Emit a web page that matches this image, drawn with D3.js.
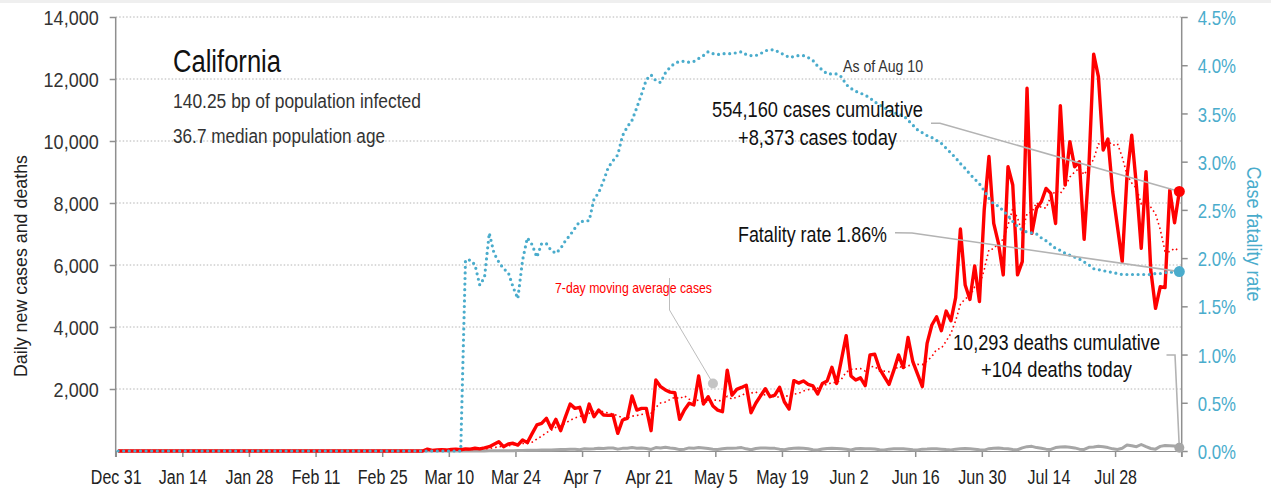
<!DOCTYPE html>
<html><head><meta charset="utf-8">
<script src="https://cdn.jsdelivr.net/npm/d3@7"></script>
<style>
html,body{margin:0;padding:0;background:#fff;}
svg{display:block;font-family:"Liberation Sans",Arial,sans-serif;}
</style></head><body>
<svg id="chart" width="1271" height="491"></svg>
<script>
// ---------- data (one value per day, starting Dec 31, 2019) ----------
const startDate = "2019-12-31";
const cases = [
0,0,0,0,0,0,0,0,0,0, 0,0,0,0,0,0,0,0,0,0, 0,0,0,0,0,0,0,0,0,0,
0,0,0,0,0,0,0,0,0,0, 0,0,0,0,0,0,0,0,0,0, 0,0,0,0,0,0,0,0,0,0, 0,0,0,0,0,
60,20,30,40,30,50,60,40,70,60,
90,70,100,140,220,300,140,225,250,190,
355,270,560,840,890,1055,730,1020,655,1100,
1515,1375,1410,945,1515,1107,1320,1160,1150,1160,
570,1000,1050,1775,1320,1375,1375,655,2290,2075,
1970,1900,1880,1020,1320,1540,1485,2420,1515,1750,
1450,1320,1270,2610,1800,1990,2050,2120,1235,1540,
1780,2010,1750,1800,2055,1590,1355,2270,2190,2260,
2150,2100,1840,2180,2260,2700,2180,2950,3720,2420,
2290,2360,2110,3100,3120,2660,2400,2150,2600,3100,
2690,3660,2880,2480,2075,3470,4065,4330,3880,4515,
4200,4950,7160,5355,4890,5970,4820,7775,9500,7340,
6700,5680,9170,8580,5680,6110,11700,7020,7830,8040,
8470,8310,7340,11140,8580,9980,9170,9330,6830,9170,
12800,12075,9710,10065,8360,7235,6110,8850,10190,8530,
6540,9010,5840,4600,5300,5270,8420,7360,8373
];
const movingAvgCases = [
0,0,0,0,0,0,0,0,0,0, 0,0,0,0,0,0,0,0,0,0, 0,0,0,0,0,0,0,0,0,0,
0,0,0,0,0,0,0,0,0,0, 0,0,0,0,0,0,0,0,0,0, 0,0,0,0,0,0,0,0,0,0, 0,0,0,0,0,
9,11,16,21,26,33,41,39,46,50,
57,63,70,81,107,140,151,171,196,209,
240,247,284,384,479,594,671,766,821,899,
995,1064,1115,1146,1216,1281,1312,1262,1230,1194,
1140,1067,1059,1124,1146,1179,1209,1221,1406,1552,
1580,1663,1735,1684,1779,1672,1588,1652,1597,1579,
1640,1640,1601,1762,1674,1741,1784,1880,1868,1906,
1788,1818,1784,1748,1739,1789,1763,1833,1859,1931,
1981,1988,2024,2141,2140,2213,2201,2316,2547,2630,
2646,2660,2576,2707,2731,2580,2577,2557,2591,2733,
2674,2751,2783,2794,2784,2908,3046,3280,3311,3545,
3791,4201,4729,4913,4993,5291,5335,5846,6496,6521,
6714,6826,7284,7821,7521,7037,7660,7706,8013,7851,
7836,8211,8387,8307,8530,8837,8999,9121,8910,9171,
9409,9908,9869,9997,9859,9916,9479,8915,8646,8477,
7974,8066,7867,7651,7144,6441,6426,6543,6452
];
const deaths = [
0,0,0,0,0,0,0,0,0,0, 0,0,0,0,0,0,0,0,0,0, 0,0,0,0,0,0,0,0,0,0,
0,0,0,0,0,0,0,0,0,0, 0,0,0,0,0,0,0,0,0,0, 0,0,0,0,0,0,0,0,0,0,
0,0,0,0,0,0,0,0,0,0, 0,0,0,0,0,
2,3,4,5,6,8,9,10,12,15,
18,22,25,28,30,35,30,40,45,50,
55,60,40,70,65,70,90,80,100,95,
60,85,90,110,90,100,80,50,110,100,
120,95,80,45,60,100,90,110,100,80,
60,50,75,90,85,95,110,70,40,80,
100,95,90,85,60,40,75,85,95,90,
75,40,30,65,80,85,80,70,55,35,
70,80,75,70,65,40,30,60,70,75,
70,60,40,30,60,65,75,70,60,45,
35,60,70,80,75,60,40,30,75,90,
100,80,70,50,40,100,140,150,110,90,
60,50,110,130,140,120,100,60,50,120,
130,150,140,110,70,50,90,190,170,140,
210,140,80,60,150,180,170,160,104
];
const fatalityRatePct = [
0,0,0,0,0,0,0,0,0,0, 0,0,0,0,0,0,0,0,0,0, 0,0,0,0,0,0,0,0,0,0,
0,0,0,0,0,0,0,0,0,0, 0,0,0,0,0,0,0,0,0,0, 0,0,0,0,0,0,0,0,0,0,
0,0,0,0,0,0,0,0,0,0, 0,0,0,
1.98,1.98,1.93,1.72,1.80,2.26,2.05,1.96,1.89,1.85,
1.70,1.58,1.98,2.21,2.14,2.01,2.15,2.15,2.08,2.05,
2.10,2.18,2.24,2.31,2.38,2.38,2.39,2.61,2.68,2.80,
2.94,3.01,3.07,3.27,3.36,3.43,3.56,3.70,3.85,3.90,
3.84,3.82,3.92,3.98,4.02,4.04,4.04,4.03,4.04,4.07,
4.10,4.14,4.12,4.11,4.12,4.12,4.12,4.13,4.14,4.11,
4.10,4.10,4.12,4.15,4.16,4.16,4.13,4.11,4.08,4.09,
4.10,4.10,4.08,4.05,3.99,3.95,3.91,3.91,3.91,3.88,
3.80,3.76,3.73,3.71,3.69,3.66,3.62,3.59,3.56,3.53,
3.51,3.49,3.48,3.43,3.38,3.33,3.30,3.27,3.25,3.22,
3.19,3.14,3.09,3.04,2.98,2.93,2.87,2.82,2.77,2.70,
2.62,2.56,2.54,2.49,2.44,2.38,2.33,2.29,2.27,2.26,
2.25,2.21,2.18,2.14,2.10,2.08,2.05,2.03,2.01,1.99,
1.96,1.93,1.89,1.88,1.87,1.86,1.85,1.84,1.83,1.83,
1.83,1.83,1.83,1.83,1.83,1.84,1.84,1.85,1.85,1.86,
1.86
];
const leftTicks = [2000,4000,6000,8000,10000,12000,14000];
const rightTicks = [0,0.5,1,1.5,2,2.5,3,3.5,4,4.5];
const xTickLabels = ["Dec 31","Jan 14","Jan 28","Feb 11","Feb 25","Mar 10","Mar 24","Apr 7",
  "Apr 21","May 5","May 19","Jun 2","Jun 16","Jun 30","Jul 14","Jul 28"];
const maAnnotation = {day: 125, value: 2180};

[cases, movingAvgCases, deaths, fatalityRatePct].forEach((a, k) => {
  if (a.length !== 224) throw new Error("series " + k + " length " + a.length);
});

// ---------- scales ----------
const svg = d3.select("#chart");
const t0 = d3.utcParse("%Y-%m-%d")(startDate);
const dayDate = i => d3.utcHour.offset(d3.utcDay.offset(t0, i), 12);
const x = d3.scaleUtc().domain([t0, d3.utcDay.offset(t0, 224)]).range([115.7, 1181.7]);
const y = d3.scaleLinear().domain([0, 14000]).range([451, 17]);
const yR = d3.scaleLinear().domain([0, 4.5]).range([451, 17]);
const last = cases.length - 1;

const CYAN = "#4aaccc", RED = "#ff0000", GRAY = "#a6a6a6", AXIS = "#8f8f8f";

function condense(sel, f) {
  sel.each(function () {
    const w = this.getComputedTextLength();
    this.setAttribute("textLength", (w * f).toFixed(1));
    this.setAttribute("lengthAdjust", "spacingAndGlyphs");
  });
}

// top strip
svg.append("rect").attr("x", 0).attr("y", 0).attr("width", 1271).attr("height", 3).attr("fill", "#efefef");

// gridlines
svg.append("g").selectAll("line").data(leftTicks).join("line")
  .attr("x1", x.range()[0]).attr("x2", x.range()[1])
  .attr("y1", d => y(d)).attr("y2", d => y(d))
  .attr("stroke", "#b4b4b4").attr("stroke-width", 1).attr("stroke-dasharray", "1.5 2");

// left axis
const gL = svg.append("g").attr("transform", `translate(${x.range()[0]},0)`)
  .call(d3.axisLeft(y).tickValues(leftTicks).tickSize(6).tickPadding(11).tickFormat(d3.format(",")));
gL.select(".domain").remove();
gL.selectAll(".tick line").attr("stroke", AXIS).attr("stroke-width", 1.5);
gL.selectAll(".tick text").attr("font-size", 20).attr("fill", "#333").attr("dy", "0.37em")
  .call(condense, 0.9);
svg.append("line").attr("x1", x.range()[0]).attr("x2", x.range()[0]).attr("y1", 17).attr("y2", 457)
  .attr("stroke", AXIS).attr("stroke-width", 1.5);

// right axis
const gR = svg.append("g").attr("transform", `translate(${x.range()[1]},0)`)
  .call(d3.axisRight(yR).tickValues(rightTicks).tickSize(6).tickPadding(10).tickFormat(d => d.toFixed(1) + "%"));
gR.select(".domain").remove();
gR.selectAll(".tick line").attr("stroke", AXIS).attr("stroke-width", 1.5);
gR.selectAll(".tick text").attr("font-size", 21).attr("fill", CYAN).attr("dy", "0.36em")
  .call(condense, 0.8);
svg.append("line").attr("x1", x.range()[1]).attr("x2", x.range()[1]).attr("y1", 17).attr("y2", 457)
  .attr("stroke", AXIS).attr("stroke-width", 1.5);

// x axis
const xTickDates = xTickLabels.map((l, i) => d3.utcDay.offset(t0, i * 14));
const gX = svg.append("g").attr("transform", "translate(0,451)")
  .call(d3.axisBottom(x).tickValues(xTickDates).tickSize(6).tickPadding(13)
    .tickFormat((d, i) => xTickLabels[i]));
gX.select(".domain").attr("stroke", AXIS).attr("stroke-width", 1);
gX.selectAll(".tick line").attr("stroke", AXIS).attr("stroke-width", 1.5);
gX.selectAll(".tick text").attr("font-size", 20).attr("fill", "#222").call(condense, 0.8);

// axis titles
svg.append("text").attr("transform", "translate(27,266) rotate(-90)")
  .attr("text-anchor", "middle").attr("font-size", 19).attr("fill", "#222")
  .attr("textLength", 222).attr("lengthAdjust", "spacingAndGlyphs")
  .text("Daily new cases and deaths");
svg.append("text").attr("transform", "translate(1247,234) rotate(90)")
  .attr("text-anchor", "middle").attr("font-size", 21).attr("fill", CYAN)
  .attr("textLength", 135).attr("lengthAdjust", "spacingAndGlyphs")
  .text("Case fatality rate");

// ---------- series ----------
const idx = d3.range(cases.length);
const lineOf = (arr, sc) => d3.line().x(i => x(dayDate(i))).y(i => sc(arr[i]));

svg.append("path").datum(idx).attr("d", lineOf(deaths, y))
  .attr("fill", "none").attr("stroke", GRAY).attr("stroke-width", 3).attr("stroke-linejoin", "round");
svg.append("path").datum(idx).attr("d", lineOf(cases, y))
  .attr("fill", "none").attr("stroke", RED).attr("stroke-width", 3.4).attr("stroke-linejoin", "round");
svg.append("path").datum(idx).attr("d", lineOf(movingAvgCases, y))
  .attr("fill", "none").attr("stroke", RED).attr("stroke-width", 1.6).attr("stroke-dasharray", "1.6 3");
svg.append("path").datum(idx).attr("d", lineOf(fatalityRatePct, yR))
  .attr("fill", "none").attr("stroke", CYAN).attr("stroke-width", 3.2)
  .attr("stroke-dasharray", "0 5.6").attr("stroke-linecap", "round");

// ---------- annotations ----------
function label(txt, xx, yy, size, width, color, anchor) {
  return svg.append("text").attr("x", xx).attr("y", yy).attr("font-size", size)
    .attr("fill", color || "#111").attr("text-anchor", anchor || "start")
    .attr("textLength", width).attr("lengthAdjust", "spacingAndGlyphs").text(txt);
}
label("California", 173, 72, 31, 108, "#111");
label("140.25 bp of population infected", 173, 108, 20, 248, "#333");
label("36.7 median population age", 173, 143, 20, 212, "#333");
label("As of Aug 10", 843, 72, 17, 80, "#333");
label("554,160 cases cumulative", 712, 117, 22, 211, "#111");
label("+8,373 cases today", 738, 145, 22, 159, "#111");
label("Fatality rate 1.86%", 738, 242, 22, 149, "#111");
label("10,293 deaths cumulative", 953, 350, 22, 207, "#111");
label("+104 deaths today", 981, 377, 22, 151, "#111");
label("7-day moving average cases", 555, 293, 15, 157, RED);

const lastX = x(dayDate(last));
const leader = pts => svg.append("polyline").attr("points", pts.map(p => p.join(",")).join(" "))
  .attr("fill", "none").attr("stroke", "#b3b3b3").attr("stroke-width", 1.6);
leader([[931, 123.3], [940, 123.3], [lastX, y(cases[last])]]);
leader([[895, 232.7], [912, 233], [lastX, yR(fatalityRatePct[last])]]);
leader([[1166.5, 355], [1175, 355], [lastX, y(deaths[last])]]);
svg.append("polyline")
  .attr("points", [[669.5, 278], [669.5, 310], [x(dayDate(maAnnotation.day)), y(maAnnotation.value)]].map(p => p.join(",")).join(" "))
  .attr("fill", "none").attr("stroke", "#bdbdbd").attr("stroke-width", 1);
svg.append("circle").attr("cx", x(dayDate(maAnnotation.day))).attr("cy", y(maAnnotation.value)).attr("r", 5).attr("fill", "#c4c4c4");

svg.append("circle").attr("cx", lastX).attr("cy", y(cases[last])).attr("r", 5.5).attr("fill", RED);
svg.append("circle").attr("cx", lastX).attr("cy", yR(fatalityRatePct[last])).attr("r", 5.5).attr("fill", CYAN);
svg.append("circle").attr("cx", lastX).attr("cy", y(deaths[last])).attr("r", 5).attr("fill", GRAY);
</script>
</body></html>
